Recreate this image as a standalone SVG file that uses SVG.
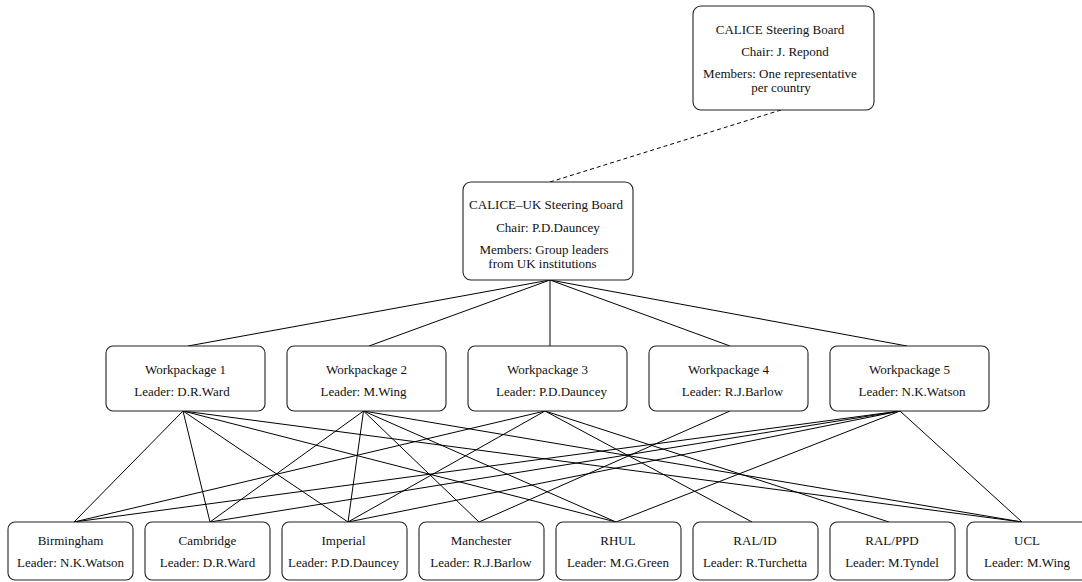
<svg xmlns="http://www.w3.org/2000/svg" width="1082" height="582" viewBox="0 0 1082 582">
<style>
.box{fill:#fff;stroke:#222;stroke-width:1.1}
text{font-family:"Liberation Serif","Times New Roman",serif;font-size:13px;fill:#111;text-anchor:middle}
.e{stroke:#000;stroke-width:1;fill:none}
.d{stroke:#000;stroke-width:1;fill:none;stroke-dasharray:4,3}
</style>
<rect width="1082" height="582" fill="#fff"/>
<g id="connectors">
<line class="d" x1="781" y1="110" x2="550" y2="182"/>
<line class="e" x1="550" y1="280" x2="188" y2="346"/>
<line class="e" x1="550" y1="280" x2="369" y2="346"/>
<line class="e" x1="550" y1="280" x2="550" y2="346"/>
<line class="e" x1="550" y1="280" x2="730" y2="346"/>
<line class="e" x1="550" y1="280" x2="907" y2="346"/>
<line class="e" x1="183" y1="411" x2="74" y2="522"/>
<line class="e" x1="183" y1="411" x2="210" y2="522"/>
<line class="e" x1="183" y1="411" x2="348" y2="522"/>
<line class="e" x1="183" y1="411" x2="616" y2="522"/>
<line class="e" x1="183" y1="411" x2="1022" y2="522"/>
<line class="e" x1="363.5" y1="411" x2="210" y2="522"/>
<line class="e" x1="363.5" y1="411" x2="348" y2="522"/>
<line class="e" x1="363.5" y1="411" x2="479" y2="522"/>
<line class="e" x1="363.5" y1="411" x2="616" y2="522"/>
<line class="e" x1="363.5" y1="411" x2="1022" y2="522"/>
<line class="e" x1="545" y1="411" x2="74" y2="522"/>
<line class="e" x1="545" y1="411" x2="348" y2="522"/>
<line class="e" x1="545" y1="411" x2="752" y2="522"/>
<line class="e" x1="545" y1="411" x2="889" y2="522"/>
<line class="e" x1="730" y1="411" x2="479" y2="522"/>
<line class="e" x1="900" y1="411" x2="74" y2="522"/>
<line class="e" x1="900" y1="411" x2="210" y2="522"/>
<line class="e" x1="900" y1="411" x2="348" y2="522"/>
<line class="e" x1="900" y1="411" x2="616" y2="522"/>
<line class="e" x1="900" y1="411" x2="1022" y2="522"/>
</g>
<g id="calice-board">
<rect class="box" x="693" y="6" width="181" height="104" rx="8"/>
<text x="780" y="34">CALICE Steering Board</text>
<text x="785" y="55.5">Chair: J. Repond</text>
<text x="780" y="77.5">Members: One representative</text>
<text x="781" y="92">per country</text>
</g>
<g id="calice-uk-board">
<rect class="box" x="463" y="182" width="170" height="98" rx="8"/>
<text x="546" y="208.5">CALICE–UK Steering Board</text>
<text x="548" y="231.5">Chair: P.D.Dauncey</text>
<text x="544" y="254">Members: Group leaders</text>
<text x="542.5" y="267.5">from UK institutions</text>
</g>
<g id="wp1">
<rect class="box" x="106" y="346" width="159" height="65" rx="7"/>
<text x="185.5" y="373.5">Workpackage 1</text>
<text x="182" y="396">Leader: D.R.Ward</text>
</g>
<g id="wp2">
<rect class="box" x="287" y="346" width="159" height="65" rx="7"/>
<text x="366.5" y="373.5">Workpackage 2</text>
<text x="363.5" y="396">Leader: M.Wing</text>
</g>
<g id="wp3">
<rect class="box" x="468" y="346" width="159" height="65" rx="7"/>
<text x="547.5" y="373.5">Workpackage 3</text>
<text x="551.5" y="396">Leader: P.D.Dauncey</text>
</g>
<g id="wp4">
<rect class="box" x="649" y="346" width="159" height="65" rx="7"/>
<text x="728.5" y="373.5">Workpackage 4</text>
<text x="732.5" y="396">Leader: R.J.Barlow</text>
</g>
<g id="wp5">
<rect class="box" x="830" y="346" width="159" height="65" rx="7"/>
<text x="909.5" y="373.5">Workpackage 5</text>
<text x="912" y="396">Leader: N.K.Watson</text>
</g>
<g id="birmingham">
<rect class="box" x="8" y="522" width="125" height="58" rx="7"/>
<text x="70.5" y="545">Birmingham</text>
<text x="70.5" y="567">Leader: N.K.Watson</text>
</g>
<g id="cambridge">
<rect class="box" x="145" y="522" width="125" height="58" rx="7"/>
<text x="207.5" y="545">Cambridge</text>
<text x="207.5" y="567">Leader: D.R.Ward</text>
</g>
<g id="imperial">
<rect class="box" x="282" y="522" width="125" height="58" rx="7"/>
<text x="343.5" y="545">Imperial</text>
<text x="343.5" y="567">Leader: P.D.Dauncey</text>
</g>
<g id="manchester">
<rect class="box" x="419" y="522" width="125" height="58" rx="7"/>
<text x="481" y="545">Manchester</text>
<text x="481" y="567">Leader: R.J.Barlow</text>
</g>
<g id="rhul">
<rect class="box" x="556" y="522" width="125" height="58" rx="7"/>
<text x="618" y="545">RHUL</text>
<text x="618" y="567">Leader: M.G.Green</text>
</g>
<g id="ral-id">
<rect class="box" x="693" y="522" width="125" height="58" rx="7"/>
<text x="755" y="545">RAL/ID</text>
<text x="755" y="567">Leader: R.Turchetta</text>
</g>
<g id="ral-ppd">
<rect class="box" x="830" y="522" width="125" height="58" rx="7"/>
<text x="892" y="545">RAL/PPD</text>
<text x="892" y="567">Leader: M.Tyndel</text>
</g>
<g id="ucl">
<rect class="box" x="967" y="522" width="125" height="58" rx="7"/>
<text x="1027" y="545">UCL</text>
<text x="1027" y="567">Leader: M.Wing</text>
</g>
</svg>
